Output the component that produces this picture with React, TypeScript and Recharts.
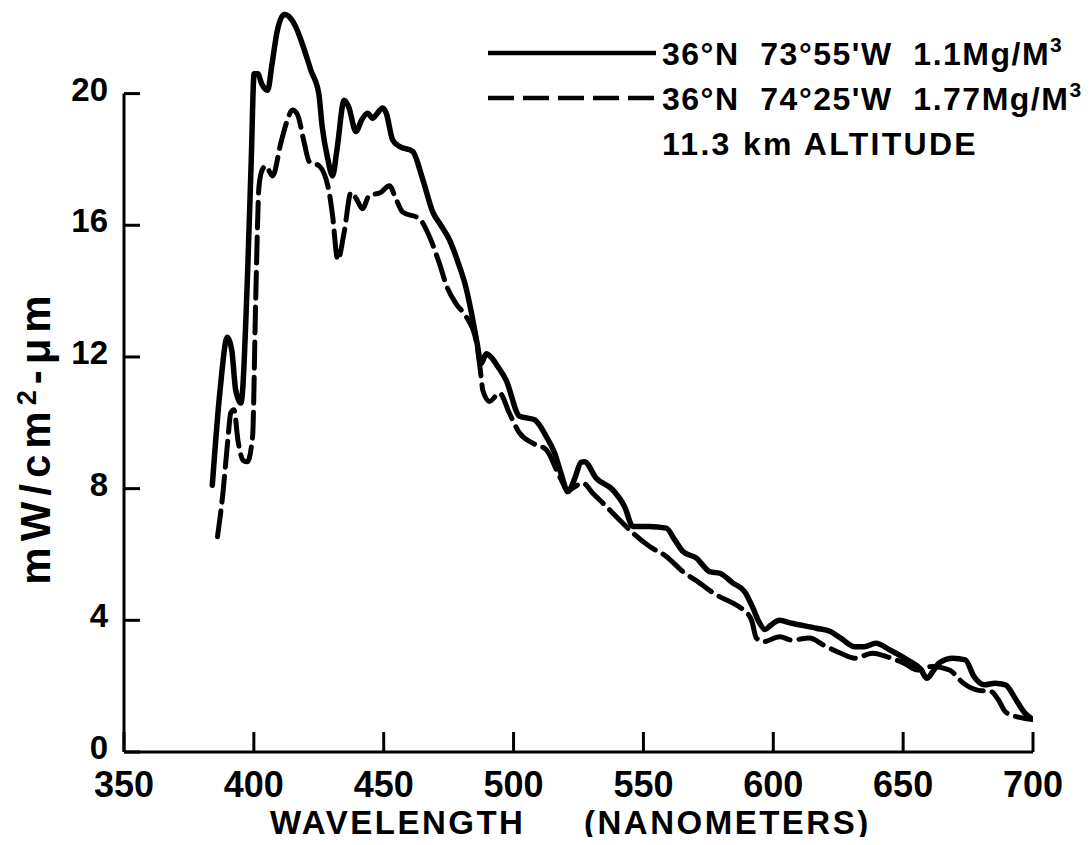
import React from 'react';
import { LineChart, Line, XAxis, YAxis, ReferenceLine } from 'recharts';

// Solid curve: 36°N 73°55'W 1.1 Mg/M3
const solidNm = [384.0, 387, 389.8, 391.5, 393, 395, 397.5, 399, 400.1, 401.5, 403, 405.3, 407, 409, 411.7, 414, 416, 418.7, 422, 425, 426.3, 428.5, 430.3, 432, 434.8, 436.5, 439.3, 441.5, 443.8, 445.7, 447.5, 449.6, 451, 453.4, 456, 461.1, 465, 468.9, 472, 475.3, 478.5, 481.7, 484.3, 486, 487.5, 489.5, 491.3, 494, 497.1, 502.3, 505, 508.1, 512.6, 515.8, 518.5, 520.9, 523.5, 526, 527.3, 531.8, 538.2, 542.7, 546, 552, 558.8, 562, 565.2, 570.4, 575.5, 579.4, 584.5, 589, 592.2, 594.5, 596.8, 599, 602.4, 607.1, 616.6, 622, 626, 631.4, 635, 639.5, 644.9, 651.6, 657, 659.1, 661.5, 663.8, 669.2, 673.9, 677.3, 681.3, 685.4, 689.4, 693.5, 696.9, 700];
const solidVal = [8.1, 11.0, 12.6, 12.2, 11.0, 10.6, 14.35, 18.0, 20.6, 20.6, 20.3, 20.1, 20.9, 21.9, 22.4, 22.3, 22.05, 21.5, 20.7, 20.0, 19.0, 18.0, 17.5, 18.3, 19.8, 19.6, 18.85, 19.2, 19.4, 19.25, 19.4, 19.56, 19.4, 18.6, 18.4, 18.25, 17.4, 16.4, 16.0, 15.56, 14.9, 14.1, 13.13, 12.4, 11.8, 12.1, 12.0, 11.7, 11.3, 10.2, 10.15, 10.09, 9.58, 9.08, 8.4, 7.91, 8.3, 8.8, 8.82, 8.32, 7.96, 7.46, 6.85, 6.85, 6.8, 6.45, 6.09, 5.89, 5.48, 5.43, 5.13, 4.87, 4.37, 3.95, 3.72, 3.85, 4.0, 3.91, 3.76, 3.66, 3.46, 3.2, 3.2, 3.3, 3.1, 2.8, 2.49, 2.24, 2.45, 2.7, 2.85, 2.8, 2.29, 2.04, 2.09, 2.04, 1.58, 1.18, 0.99];

// Dashed curve: 36°N 74°25'W 1.77 Mg/M3
const dashedNm = [386, 388, 390, 391.1, 392.3, 394, 396, 397.5, 399.5, 400.7, 402, 403.3, 404.6, 407.2, 410.4, 412.5, 414.9, 416.8, 419.4, 421.3, 425.2, 429, 430.3, 432.3, 434.8, 437.4, 439.5, 441.8, 444.4, 448.9, 452.2, 454.7, 457.3, 463.7, 467.6, 471.4, 474.5, 478, 481.7, 485.5, 487.5, 488.1, 490.7, 494.6, 498.4, 502.3, 507.4, 512.6, 517.7, 520.9, 526.7, 530.5, 535.7, 540.8, 546, 552.4, 558.8, 565.2, 571.7, 578.1, 584.5, 588.4, 591.6, 593.5, 596.1, 602.5, 607.1, 613.9, 619.3, 626, 631.4, 638.2, 643.6, 650.3, 655.7, 661.1, 667.8, 673.2, 678.6, 684, 686.7, 689.4, 694.8, 700];
const dashedVal = [6.54, 7.8, 9.5, 10.3, 10.4, 9.4, 8.85, 8.82, 9.58, 13.7, 17.2, 17.7, 17.8, 17.5, 18.5, 19.1, 19.5, 19.36, 18.5, 17.94, 17.8, 17.0, 16.3, 14.95, 15.8, 17.0, 16.8, 16.5, 16.9, 17.0, 17.2, 16.8, 16.4, 16.2, 15.66, 14.85, 14.1, 13.6, 13.23, 12.52, 11.4, 11.0, 10.65, 10.9, 10.29, 9.69, 9.38, 9.18, 8.37, 7.96, 8.17, 7.86, 7.46, 7.05, 6.65, 6.24, 5.94, 5.48, 5.13, 4.77, 4.52, 4.32, 4.01, 3.46, 3.35, 3.5, 3.4, 3.46, 3.25, 3.0, 2.85, 3.0, 2.9, 2.7, 2.49, 2.6, 2.49, 2.09, 1.88, 1.83, 1.58, 1.22, 1.05, 0.99];

const xTicks = [350, 400, 450, 500, 550, 600, 650, 700];
const yTicks = [0, 4, 8, 12, 16, 20];
const legendLabels = ["36°N  73°55'W  1.1Mg/M", "36°N  74°25'W  1.77Mg/M"];
const legendSup = '3';
const altitudeLabel = '11.3 km ALTITUDE';
const xTitleParts = ['WAVELENGTH', '(NANOMETERS)'];
const yTitleMain = 'mW/cm';
const yTitleSup = '2';
const yTitleEnd = '-μm';

const solidData = solidNm.map((nm, i) => ({ nm, v: solidVal[i] }));
const dashedData = dashedNm.map((nm, i) => ({ nm, v: dashedVal[i] }));

const FONT = "'Liberation Sans', Arial, sans-serif";
const Y_MARGIN = 16;
const X_MARGIN = 8;
const DASH = '26 9';

const YTick = (props: any) => {
  const { x, y, payload } = props;
  const ax = x + Y_MARGIN;
  return (
    <g>
      <line x1={ax} x2={ax + 16} y1={y} y2={y} stroke="#000" strokeWidth={3} />
      <text x={x} y={y + 7} textAnchor="end" fontFamily={FONT} fontWeight="bold" fontSize={33} fill="#000">
        {payload.value}
      </text>
    </g>
  );
};

const XTick = (props: any) => {
  const { x, y, payload } = props;
  const ay = y - X_MARGIN;
  return (
    <g>
      <line x1={x} x2={x} y1={ay} y2={ay - 20} stroke="#000" strokeWidth={3} />
      <text x={x} y={ay + 45} textAnchor="middle" fontFamily={FONT} fontWeight="bold" fontSize={36} fill="#000">
        {payload.value}
      </text>
    </g>
  );
};

export default function App() {
  return (
    <div style={{ position: 'relative', width: 1075, height: 837, marginBottom: -8, background: '#fff', overflow: 'hidden' }}>
      <LineChart width={1075} height={829} margin={{ top: 0, right: 50, left: 16, bottom: 0 }}>
        <XAxis
          dataKey="nm"
          type="number"
          domain={[350, 700]}
          ticks={xTicks}
          interval={0}
          allowDataOverflow
          height={85}
          tickSize={0}
          tickMargin={X_MARGIN}
          tickLine={false}
          axisLine={{ stroke: '#000', strokeWidth: 3 }}
          tick={<XTick />}
        />
        <YAxis
          type="number"
          domain={[0, 22.6]}
          ticks={yTicks}
          interval={0}
          width={100}
          tickSize={0}
          tickMargin={Y_MARGIN}
          tickLine={false}
          axisLine={false}
          tick={<YTick />}
        />
        <ReferenceLine
          segment={[{ x: 350, y: 0 }, { x: 350, y: 20 }]}
          stroke="#000"
          strokeWidth={3}
        />
        <Line
          data={solidData}
          dataKey="v"
          type="monotone"
          stroke="#000"
          strokeWidth={5.5}
          dot={false}
          isAnimationActive={false}
          strokeLinecap="round"
          strokeLinejoin="round"
        />
        <Line
          data={dashedData}
          dataKey="v"
          type="monotone"
          stroke="#000"
          strokeWidth={5}
          strokeDasharray={DASH}
          dot={false}
          isAnimationActive={false}
          strokeLinecap="round"
        />
      </LineChart>
      <svg
        width={1075}
        height={837}
        style={{ position: 'absolute', left: 0, top: 0, pointerEvents: 'none' }}
      >
        {/* legend */}
        <line x1={480} x2={648} y1={45} y2={45} stroke="#000" strokeWidth={4.5} />
        <line x1={480} x2={648} y1={90} y2={90} stroke="#000" strokeWidth={4.5} strokeDasharray={DASH} />
        <text x={654} y={57} fontFamily={FONT} fontWeight="bold" fontSize={32} letterSpacing={1.5} style={{ whiteSpace: 'pre' }} fill="#000">
          {legendLabels[0]}
          <tspan dy={-13} fontSize={21}>{legendSup}</tspan>
        </text>
        <text x={654} y={102} fontFamily={FONT} fontWeight="bold" fontSize={32} letterSpacing={1.5} style={{ whiteSpace: 'pre' }} fill="#000">
          {legendLabels[1]}
          <tspan dy={-13} fontSize={21}>{legendSup}</tspan>
        </text>
        <text x={654} y={147} fontFamily={FONT} fontWeight="bold" fontSize={32} letterSpacing={2.3} style={{ whiteSpace: 'pre' }} fill="#000">
          {altitudeLabel}
        </text>
        {/* x title */}
        <text y={826} fontFamily={FONT} fontWeight="bold" fontSize={33} letterSpacing={2.5} fill="#000">
          <tspan x={262}>{xTitleParts[0]}</tspan>
          <tspan x={576}>{xTitleParts[1]}</tspan>
        </text>
        {/* y title */}
        <text
          x={42}
          y={429}
          transform="rotate(-90 42 429)"
          textAnchor="middle"
          fontFamily={FONT}
          fontWeight="bold"
          fontSize={42}
          letterSpacing={6}
          fill="#000"
        >
          {yTitleMain}
          <tspan dy={-14} fontSize={27}>{yTitleSup}</tspan>
          <tspan dy={14}>{yTitleEnd}</tspan>
        </text>
      </svg>
    </div>
  );
}
